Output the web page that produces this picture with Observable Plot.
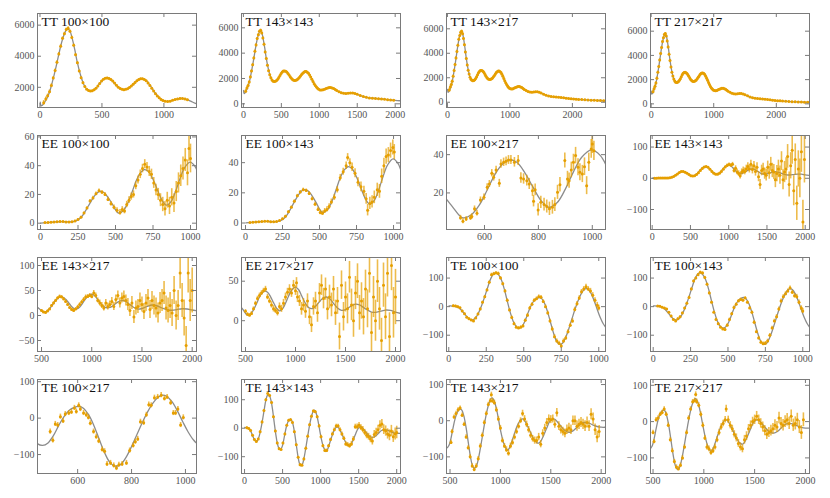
<!DOCTYPE html>
<html><head><meta charset="utf-8">
<script src="https://cdn.jsdelivr.net/npm/d3@7"></script>
<script src="https://cdn.jsdelivr.net/npm/@observablehq/plot@0.6"></script>
<style>
html,body{margin:0;padding:0;background:#fff;}
#chart{position:relative;width:830px;height:498px;overflow:hidden;background:#fff;}
#chart svg{position:absolute;overflow:visible;font-family:'Liberation Serif','DejaVu Serif',serif !important;}
#chart svg text{font-family:'Liberation Serif','DejaVu Serif',serif !important;}
</style></head><body><div id="chart"></div>
<script>
// ---------- theory curves [ell, D_ell] ----------
const ttModel = [[2,1050],[10,800],[20,850],[30,950],[50,1200],[75,1650],[100,2350],[125,3150],[150,4050],[175,4900],[200,5500],[220,5750],[240,5650],[260,5150],[280,4450],[300,3650],[325,2850],[350,2250],[375,1900],[400,1770],[425,1780],[450,1920],[475,2170],[500,2420],[525,2580],[545,2610],[570,2520],[600,2280],[630,2020],[660,1870],[690,1860],[720,1970],[750,2170],[780,2410],[810,2550],[830,2550],[860,2420],[890,2100],[920,1740],[950,1430],[980,1210],[1010,1100],[1040,1100],[1070,1160],[1100,1230],[1130,1280],[1160,1270],[1190,1200],[1220,1090],[1250,980],[1280,900],[1310,840],[1340,810],[1370,820],[1400,850],[1430,860],[1460,830],[1500,750],[1550,630],[1600,530],[1650,470],[1700,440],[1750,420],[1800,400],[1850,370],[1900,330],[1950,300],[2000,270],[2100,230],[2200,200],[2300,170],[2400,150],[2500,130],[2550,120]];
const eeModel = [[2,0.05],[30,0.3],[60,0.6],[100,0.9],[140,1.1],[180,0.9],[210,0.9],[240,1.8],[270,4],[300,8.5],[330,14],[360,19],[390,22],[420,21.5],[450,18],[480,13],[505,8.5],[520,7],[550,8.5],[580,13.5],[610,21.5],[640,30],[670,35.5],[692,37.3],[720,36],[750,30.5],[780,23],[810,16],[839,12.5],[870,15],[900,22],[930,31],[960,38.5],[997,42.5],[1030,39.5],[1060,32],[1090,24],[1120,18],[1150,15.5],[1180,16],[1210,19.5],[1250,25.5],[1280,29],[1310,30],[1340,28],[1380,22],[1420,16],[1460,13],[1500,14],[1550,18],[1600,21],[1640,20],[1700,15],[1760,11],[1800,10.5],[1850,12],[1900,13.5],[1950,13],[2000,11],[2060,9]];
const teModel = [[2,3],[20,2],[40,1],[60,-2],[80,-10],[100,-22],[120,-35],[140,-44],[160,-46],[180,-38],[200,-20],[220,5],[240,35],[260,68],[280,98],[300,115],[315,118],[330,113],[350,95],[370,62],[390,20],[410,-20],[430,-52],[450,-70],[470,-75],[490,-68],[510,-48],[530,-20],[550,5],[570,22],[590,30],[605,32],[620,28],[640,10],[660,-20],[680,-58],[700,-95],[720,-122],[740,-132],[760,-127],[780,-107],[800,-78],[820,-45],[840,-12],[860,18],[880,42],[900,58],[915,63],[930,60],[950,45],[970,20],[990,-10],[1010,-38],[1030,-60],[1050,-74],[1070,-82],[1090,-75],[1110,-60],[1140,-35],[1170,-12],[1200,2],[1220,5],[1240,0],[1270,-15],[1300,-33],[1330,-50],[1360,-60],[1380,-62],[1400,-57],[1430,-40],[1460,-20],[1490,-2],[1520,5],[1540,4],[1570,-5],[1600,-15],[1640,-27],[1680,-32],[1720,-28],[1760,-18],[1800,-8],[1840,-5],[1880,-7],[1920,-12],[1960,-16],[2000,-18],[2050,-18]];

// ---------- binned data [ell, D_ell, error] ----------
const ttBins = [[30,1000,150],[47,1250,130],[62,1450,120],[77,1720,110],[92,2120,100],[107,2600,90],[122,3080,90],[137,3620,90],[152,4150,90],[167,4650,90],[182,5150,90],[197,5450,90],[212,5720,90],[227,5800,90],[242,5600,90],[257,5200,80],[272,4700,80],[287,4100,70],[302,3580,70],[317,3050,60],[332,2620,60],[347,2300,50],[362,2050,50],[377,1880,50],[392,1790,40],[407,1760,40],[422,1780,40],[437,1840,40],[452,1940,40],[467,2080,40],[482,2240,40],[497,2400,40],[512,2520,40],[527,2590,40],[542,2600,40],[557,2570,40],[572,2510,40],[587,2400,40],[602,2270,40],[617,2130,40],[632,2010,40],[647,1920,40],[662,1870,40],[677,1850,40],[692,1870,40],[707,1910,40],[722,1980,40],[737,2080,40],[752,2190,40],[767,2310,40],[782,2420,40],[797,2500,40],[812,2550,40],[827,2550,40],[842,2500,40],[857,2420,40],[872,2280,40],[887,2120,40],[902,1940,40],[917,1760,40],[932,1590,40],[947,1440,40],[962,1320,40],[977,1220,40],[992,1150,40],[1010,1100,40],[1030,1090,40],[1050,1110,40],[1070,1160,40],[1090,1210,40],[1110,1250,40],[1130,1280,40],[1150,1280,40],[1170,1250,40],[1190,1200,40],[1210,1130,40],[1230,1050,40],[1260,960,40],[1290,880,40],[1320,830,40],[1350,810,40],[1380,830,40],[1410,850,40],[1440,850,40],[1470,810,40],[1500,750,40],[1540,660,40],[1580,570,40],[1620,510,40],[1660,460,40],[1700,440,40],[1740,420,40],[1780,410,40],[1820,390,40],[1860,360,40],[1900,330,40],[1940,300,40],[1980,280,40],[2020,260,40],[2060,250,40],[2100,230,40],[2150,215,40],[2200,200,40],[2250,185,40],[2300,170,40],[2350,160,40],[2400,150,40],[2450,140,40],[2500,130,40]];

const ee100x100 = [[30,0.4,0.3],[50,0.5,0.3],[70,0.7,0.3],[90,0.9,0.3],[110,1.0,0.3],[130,1.2,0.3],[150,1.1,0.3],[170,0.9,0.3],[190,0.9,0.3],[210,1.0,0.4],[230,1.5,0.5],[250,2.6,0.6],[270,4.2,0.7],[290,7.0,0.8],[310,10.5,1],[330,15.5,1],[350,17.5,1.2],[370,20.5,1.2],[390,22.5,1.3],[410,21.5,1.3],[430,20,1.4],[450,16.5,1.5],[470,13.5,1.6],[490,11,1.7],[510,9,1.8],[530,7.5,2],[545,9.5,2],[560,8.5,2],[575,13,2.2],[590,16,2.3],[605,18.5,2.5],[620,20,2.5],[635,26,2.7],[650,30,2.8],[665,34,3],[680,38,3],[695,41,3.2],[710,39,3.3],[725,36,3.5],[740,34,3.6],[755,28,3.8],[770,23,4],[785,20,4.2],[800,16,4.5],[815,13,5],[830,10,5],[845,16,5.5],[860,12,6],[875,18,6],[890,14,6.5],[905,22,7],[920,28,7],[935,33,7.5],[950,38,8],[965,44,8],[980,35,9],[990,52,9],[1000,45,10]];
const ee100x143 = [[30,0.3,0.2],[50,0.5,0.2],[70,0.6,0.2],[90,0.8,0.2],[110,1.0,0.2],[130,1.1,0.2],[150,1.1,0.2],[170,0.9,0.2],[190,0.8,0.3],[210,1.0,0.3],[230,1.6,0.4],[250,2.8,0.5],[270,4.5,0.6],[290,7.5,0.7],[310,10.5,0.8],[330,14.5,0.9],[350,18,1],[370,20.5,1],[390,22,1.1],[410,21.5,1.1],[430,19.5,1.2],[450,16,1.2],[470,12.5,1.3],[490,9,1.4],[505,7,1.5],[520,6.5,1.5],[535,8,1.6],[550,9,1.7],[565,11,1.8],[580,14,1.9],[600,17,2],[620,22,2.1],[640,30,2.2],[660,34,2.3],[680,38,2.5],[690,43.5,2.5],[705,40,2.6],[720,37,2.8],[740,33,3],[760,27,3],[780,24,3.2],[800,21,3.4],[815,16,3.6],[825,8.5,3.8],[840,13,4],[855,14,4],[870,17,4.2],[890,22,4.4],[905,21,4.6],[920,31,4.8],[935,38,5],[950,44,5],[965,45,5],[980,48,5],[995,50,5],[1005,47,5]];
const ee100x217 = [[511,7.0,1.3],[520,5.2,1.3],[532,6.4,1.3],[548,7.0,1.4],[553,7.7,1.4],[563,11.7,1.5],[572,9.4,1.5],[585,16.3,1.6],[598,17.7,1.7],[610,23,1.8],[618,24.7,1.8],[627,30.3,1.9],[634,28.2,2],[643,32,2],[655,25,2.1],[661,35.1,2.2],[671,36,2.2],[680,36.5,2.3],[689,37.2,2.3],[698,37.2,2.4],[711,36,2.5],[725,36.9,2.6],[735,27.8,2.7],[745,27.3,2.7],[757,26.4,2.8],[766,24.7,2.9],[778,21.2,3],[782,15.7,3],[788,21.6,3.1],[799,11.1,3.2],[809,15.1,3.2],[821,13.9,3.3],[831,12.9,3.4],[841,11.7,3.5],[852,12.5,3.6],[861,13.9,3.6],[871,20.3,3.7],[880,24.3,3.8],[898,36.9,3.9],[908,27.3,4],[914,26.4,4],[922,32,4.1],[930,36,4.2],[938,39.5,4.3],[947,33.4,4.4],[954,30.8,4.4],[963,29.9,4.5],[971,33.7,4.6],[979,23.8,4.7],[987,36,4.8],[996,43,4.9],[1000,45.6,5],[1006,42,5]];
const ee143x143 = [[30,0.3,0.5],[55,0.5,0.5],[80,0.8,0.5],[105,1,0.5],[130,1.1,0.5],[155,1,0.6],[180,0.9,0.6],[205,0.9,0.7],[230,1.5,0.8],[255,3,0.9],[280,5.5,1],[305,9.5,1],[330,14,1],[355,18.5,1],[380,21.5,1],[405,21.5,1],[430,19.5,1],[455,16,1],[480,12,1.2],[505,8.5,1.2],[530,7,1.3],[555,8,1.4],[580,12,1.5],[605,18,1.6],[630,25,1.7],[655,31,1.8],[680,36,2],[705,37.5,2],[730,35,2.2],[755,29,2.4],[780,22,2.6],[805,16,2.8],[830,13,3],[855,13,3.2],[880,16,3.4],[905,22,3.6],[930,29,4],[955,36,4],[980,41,4.5],[1005,44,5],[1030,42,5],[1050,45,6],[1070,25,8],[1090,32,8],[1110,20,9],[1130,15,9],[1150,8,10],[1170,20,10],[1190,25,11],[1210,22,11],[1230,30,12],[1250,38,12],[1270,30,13],[1290,45,13],[1310,28,14],[1330,40,14],[1350,22,15],[1370,35,15],[1390,5,16],[1410,-20,16],[1430,25,17],[1450,30,18],[1470,15,18],[1490,10,19],[1510,35,20],[1530,18,21],[1550,45,22],[1570,25,23],[1590,20,24],[1610,-5,25],[1630,15,26],[1650,30,28],[1670,10,29],[1690,55,30],[1710,-5,32],[1730,20,34],[1750,30,36],[1770,70,38],[1790,-20,40],[1810,40,42],[1830,90,45],[1850,-40,48],[1870,60,50],[1890,-80,55],[1910,30,58],[1930,0,62],[1950,85,66],[1970,-140,70],[1990,60,75]];
const ee143x217 = [[500,10,2],[520,7,2],[540,6,2],[560,9,2],[580,13,2],[600,20,2],[620,25,2.5],[640,30,2.5],[660,35,2.5],[680,38,3],[700,37,3],[720,33,3],[740,28,3],[760,22,3],[780,16,3],[800,12,3],[820,10,3],[840,13,3],[860,17,3.5],[880,22,3.5],[900,27,3.5],[920,32,4],[940,37,4],[960,38,4],[980,40,4],[1000,38,4.5],[1020,45,5],[1040,40,5],[1060,30,5],[1080,25,6],[1100,20,6],[1120,15,6],[1140,25,7],[1160,18,7],[1180,22,7],[1200,28,8],[1220,18,8],[1240,32,9],[1260,40,9],[1280,25,10],[1300,35,10],[1320,38,11],[1340,30,11],[1360,22,12],[1380,10,12],[1400,25,13],[1420,-3,13],[1440,15,14],[1460,18,14],[1480,30,15],[1500,22,15],[1520,8,16],[1540,25,17],[1560,35,17],[1580,12,18],[1600,30,18],[1620,20,19],[1640,15,20],[1660,5,20],[1680,25,21],[1700,30,22],[1720,45,23],[1740,15,24],[1760,10,25],[1780,20,26],[1800,5,27],[1820,50,28],[1840,0,29],[1860,20,30],[1880,85,32],[1900,30,34],[1920,-5,36],[1940,-60,38],[1960,85,40],[1980,30,42],[2000,50,45]];
const ee217x217 = [[500,12,2],[520,8,2],[540,7,2],[560,9,2.5],[580,15,2.5],[600,22,2.5],[620,28,3],[640,32,3],[660,35,3],[680,38,3],[700,40,3.5],[720,30,3.5],[740,25,3.5],[760,20,4],[780,15,4],[800,13,4],[820,10,4],[840,18,4.5],[860,15,4.5],[880,22,5],[900,30,5],[920,36,5],[940,40,5.5],[960,35,5.5],[980,45,6],[1000,38,6],[1010,48,6.5],[1020,30,7],[1040,25,7],[1060,15,8],[1080,20,8],[1100,12,9],[1120,25,9],[1140,5,10],[1160,-5,10],[1180,18,11],[1200,25,11],[1220,10,12],[1240,35,12],[1260,45,13],[1280,28,13],[1300,40,14],[1320,15,14],[1340,30,15],[1360,20,15],[1380,40,16],[1400,10,16],[1420,25,17],[1440,-20,17],[1460,45,18],[1480,5,18],[1500,30,19],[1520,15,19],[1540,55,20],[1560,20,20],[1580,0,21],[1600,35,21],[1620,50,22],[1640,10,22],[1660,25,23],[1680,5,23],[1700,40,24],[1720,15,24],[1740,60,25],[1760,-15,25],[1780,30,26],[1800,0,26],[1820,50,27],[1840,15,27],[1860,-25,28],[1880,45,28],[1900,5,29],[1920,60,30],[1940,-20,30],[1960,70,32],[1980,10,32],[2000,30,35]];

const te100x100 = [[30,3,3],[45,2,3],[60,0,3],[75,-4,3],[90,-15,3],[105,-25,3],[120,-37,3],[135,-42,3],[150,-47,3],[165,-50,4],[180,-40,4],[195,-26,4],[210,-8,4],[225,15,4],[240,35,4],[255,58,5],[270,85,5],[285,112,5],[300,115,5],[315,118,5],[330,116,5],[345,100,5],[360,80,5],[375,55,5],[390,22,5],[405,-12,5],[420,-38,5],[435,-60,5],[450,-72,5],[465,-75,5],[480,-72,5],[495,-68,5],[510,-48,5],[525,-30,6],[540,-5,6],[555,8,6],[570,22,6],[585,28,6],[600,35,6],[615,33,6],[630,18,6],[645,0,6],[660,-22,6],[675,-50,6],[690,-78,7],[705,-105,7],[720,-120,7],[735,-128,7],[750,-138,7],[765,-120,7],[780,-110,7],[795,-88,7],[810,-65,7],[825,-50,8],[840,-10,8],[855,10,8],[870,30,8],[885,52,8],[900,62,8],[915,70,8],[930,62,8],[945,55,9],[960,40,9],[975,22,9],[990,5,10],[1000,-5,10]];
const te100x143 = [[30,2,2],[45,1,2],[60,-2,2],[75,-5,2],[90,-8,2],[105,-20,2],[120,-33,3],[135,-45,3],[150,-50,3],[165,-42,3],[180,-35,3],[195,-22,3],[210,-5,3],[225,12,3],[240,32,4],[255,62,4],[270,90,4],[285,100,4],[300,112,4],[315,120,4],[330,118,4],[345,102,4],[360,78,4],[375,48,4],[390,15,4],[405,-20,4],[420,-45,4],[435,-60,4],[450,-72,4],[465,-78,4],[480,-80,5],[495,-65,5],[510,-45,5],[525,-25,5],[540,-3,5],[555,8,5],[570,20,5],[585,25,5],[600,22,5],[615,30,5],[630,15,5],[645,-5,5],[660,-20,5],[675,-55,6],[690,-88,6],[705,-110,6],[720,-125,6],[735,-130,6],[750,-128,6],[765,-120,6],[780,-100,6],[795,-75,6],[810,-50,6],[825,-35,7],[840,-8,7],[855,20,7],[870,35,7],[885,45,7],[900,55,7],[915,65,7],[930,50,7],[945,38,8],[960,35,8],[975,15,8],[990,-5,8],[1000,-15,9]];
const te100x217 = [[498,-37,7],[508,-61,7],[517,-16,7],[526,-19,7],[536,4,7],[546,-8,7],[554,11,7],[567,14,7],[577,17,7],[588,28,7],[595,18,7],[604,35,7],[610,25,7],[622,14,7],[632,9,7],[640,2,7],[647,-14,7],[659,-37,7],[669,-51,7],[678,-63,7],[691,-86,7],[700,-91,7],[709,-126,7],[722,-123,7],[734,-130,7],[744,-137,7],[753,-128,7],[765,-126,7],[781,-123,7],[793,-89,7],[806,-75,7],[814,-65,7],[823,-57,7],[833,-10,7],[845,-13,7],[855,9,7],[864,37,7],[873,35,7],[885,56,7],[897,58,7],[910,63,7],[922,54,7],[932,58,7],[945,42,7],[955,14,7],[963,14,7],[972,25,7],[982,-19,7],[992,2,7]];
const te143x143 = [[30,2,3],[55,-1,3],[80,-8,3],[105,-25,3],[130,-40,3],[155,-47,3],[180,-38,3],[205,-12,3],[230,22,3],[255,62,3],[280,100,3],[305,122,3],[330,115,3],[355,90,3],[380,40,3],[405,-10,3],[430,-52,3],[455,-72,3],[480,-75,3],[505,-52,3],[530,-20,3],[555,10,3],[580,28,3],[605,30,3],[630,20,3],[655,-12,3],[680,-58,3],[705,-102,3],[730,-128,4],[755,-130,4],[780,-108,4],[805,-70,4],[830,-28,4],[855,12,4],[880,42,4],[905,60,4],[930,58,4],[955,40,4],[980,8,5],[1005,-30,5],[1030,-62,5],[1055,-78,5],[1080,-78,5],[1105,-62,5],[1130,-40,5],[1155,-20,6],[1180,-5,6],[1205,8,6],[1230,8,6],[1255,-5,7],[1280,-20,7],[1305,-35,7],[1330,-55,8],[1355,-58,8],[1380,-62,8],[1405,-55,9],[1430,-38,9],[1455,5,9],[1480,5,10],[1505,10,10],[1530,2,10],[1555,-5,11],[1580,-15,11],[1605,-25,12],[1630,-30,12],[1655,-38,13],[1680,-45,14],[1705,-22,14],[1730,-15,15],[1755,-5,15],[1780,10,16],[1805,15,16],[1830,-5,17],[1855,-10,18],[1880,-20,18],[1905,-25,19],[1930,-10,20],[1955,-30,20],[1980,-20,21],[2000,-15,22]];
const te143x217 = [[510,-60,6],[520,-30,6],[540,10,6],[560,20,6],[580,30,6],[600,35,6],[620,15,6],[640,-10,6],[660,-45,6],[680,-75,6],[700,-100,6],[720,-125,6],[740,-135,6],[760,-125,6],[780,-105,6],[800,-70,6],[820,-40,6],[840,-5,6],[860,20,6],[880,45,6],[900,55,6],[910,72,7],[920,55,7],[940,50,7],[960,30,7],[980,5,7],[1000,-20,7],[1020,-55,7],[1040,-70,7],[1060,-80,8],[1080,-90,8],[1100,-70,8],[1120,-60,8],[1140,-45,8],[1160,-30,8],[1180,-15,8],[1200,0,8],[1220,20,9],[1240,5,9],[1260,-10,9],[1280,-25,9],[1300,-40,9],[1320,-50,9],[1340,-55,10],[1360,-55,10],[1380,-45,10],[1400,-65,10],[1420,-35,10],[1440,-20,10],[1460,-5,11],[1480,5,11],[1500,3,11],[1520,5,11],[1540,-10,11],[1560,22,12],[1580,-15,12],[1600,-25,12],[1620,-30,12],[1640,-35,12],[1660,-25,13],[1680,-20,13],[1700,-25,13],[1720,0,13],[1740,0,13],[1760,-15,14],[1780,-10,14],[1800,-5,14],[1820,-10,14],[1840,-15,15],[1860,-5,15],[1880,-15,15],[1900,18,15],[1920,5,16],[1940,-25,16],[1960,-45,16],[1980,-30,17]];
const te217x217 = [[500,-30,6],[510,-55,6],[530,5,6],[550,10,6],[570,20,6],[590,25,6],[610,35,6],[630,20,6],[650,-10,6],[670,-50,6],[690,-80,6],[710,-110,6],[730,-125,6],[750,-130,6],[770,-120,6],[790,-100,6],[810,-70,6],[830,-30,6],[850,10,6],[870,35,6],[890,55,6],[910,58,7],[920,75,7],[930,55,7],[950,45,7],[970,20,7],[990,-10,7],[1010,-45,7],[1030,-70,8],[1050,-75,8],[1070,-85,8],[1090,-80,8],[1110,-70,8],[1130,-50,8],[1150,-30,9],[1170,-15,9],[1190,-5,9],[1210,5,9],[1220,35,10],[1240,5,10],[1260,-10,10],[1280,-20,10],[1300,-35,10],[1320,-45,11],[1340,-60,11],[1360,-70,11],[1380,-75,11],[1400,-50,12],[1420,-40,12],[1440,-20,12],[1460,-10,12],[1480,0,12],[1500,5,13],[1520,15,13],[1540,5,13],[1560,-5,13],[1580,-15,14],[1600,-25,14],[1620,-35,14],[1640,-30,14],[1660,-25,15],[1680,-20,15],[1700,-10,15],[1720,-15,15],[1740,10,16],[1760,-5,16],[1780,-10,16],[1800,0,16],[1820,5,17],[1840,-5,17],[1860,15,17],[1880,-10,17],[1900,-5,18],[1920,5,18],[1940,-15,18],[1960,-30,19],[1980,5,19]];

// ---------- panel titles and tick values ----------
const titles = ["TT 100×100","TT 143×143","TT 143×217","TT 217×217","EE 100×100","EE 100×143","EE 100×217","EE 143×143","EE 143×217","EE 217×217","TE 100×100","TE 100×143","TE 100×217","TE 143×143","TE 143×217","TE 217×217"];
const xTickSets = [[0,500,1000],[0,500,1000,1500,2000],[0,1000,2000],[0,1000,2000],[0,250,500,750,1000],[0,250,500,750,1000],[600,800,1000],[0,500,1000,1500,2000],[500,1000,1500,2000],[500,1000,1500,2000],[0,250,500,750,1000],[0,250,500,750,1000],[600,800,1000],[0,500,1000,1500,2000],[500,1000,1500,2000],[500,1000,1500,2000]];
const yTickSets = [[2000,4000,6000],[0,2000,4000,6000],[0,2000,4000,6000],[0,2000,4000,6000],[0,20,40,60],[0,20,40],[20,40],[-100,0,100],[-50,0,50,100],[0,50],[-100,0,100],[-100,0,100],[-100,0,100],[-100,0,100],[-100,0,100],[-100,0,100]];

// ---------- panel options (library setup) ----------
const panels = [
 {model: ttModel, data: ttBins.filter(d => d[0] <= 1200), x: [-20,1263], y: [700,6750]},
 {model: ttModel, data: ttBins.filter(d => d[0] <= 2000), x: [-25,2070], y: [-290,7130]},
 {model: ttModel, data: ttBins, x: [-15,2530], y: [-430,7250]},
 {model: ttModel, data: ttBins, x: [-10,2530], y: [-300,7460]},
 {model: eeModel, data: ee100x100, x: [-20,1040], y: [-4.4,61]},
 {model: eeModel, data: ee100x143, x: [-27,1047], y: [-4.3,58]},
 {model: eeModel, data: ee100x217, x: [459,1049], y: [0.9,50]},
 {model: eeModel, data: ee143x143, x: [-22,2056], y: [-164,137]},
 {model: eeModel, data: ee143x217, x: [460,2043], y: [-72,116]},
 {model: eeModel, data: ee217x217, x: [460,2050], y: [-39,80]},
 {model: teModel, data: te100x100, x: [-15,1045], y: [-157,172]},
 {model: teModel, data: te100x143, x: [-18,1045], y: [-157,172]},
 {model: teModel, data: te100x217, x: [451,1041], y: [-152,106]},
 {model: teModel, data: te143x143, x: [-40,2050], y: [-159,171]},
 {model: teModel, data: te143x217, x: [465,2043], y: [-146,114]},
 {model: teModel, data: te217x217, x: [475,2040], y: [-143,116]}
];

const ORANGE = "#E69F00", GRAY = "#8c8c8c", FRAME = "#7a7a7a", TICKTXT = "#555";
const FONT = "Liberation Serif, DejaVu Serif, serif";
const colLeft = [37, 241, 446, 650], rowTop = [13, 135, 257, 379];
const W = 159, H = 94, ML = 40, MR = 12, MT = 4, MB = 22;
const fmt = d => (d < 0 ? "\u2212" + Math.abs(d) : String(d));
const chart = document.getElementById("chart");

panels.forEach((s, i) => {
  const xt = xTickSets[i], yt = yTickSets[i];
  const svg = Plot.plot({
    width: W + ML + MR, height: H + MT + MB,
    marginLeft: ML, marginRight: MR, marginTop: MT, marginBottom: MB,
    style: {background: "transparent", overflow: "visible"},
    x: {domain: s.x, label: null},
    y: {domain: s.y, label: null},
    marks: [
      Plot.line(s.model, {x: d => d[0], y: d => d[1], stroke: GRAY, strokeWidth: 1.3, curve: "catmull-rom", clip: true}),
      Plot.ruleX(s.data, {x: d => d[0], y1: d => d[1] - d[2], y2: d => d[1] + d[2], stroke: ORANGE, strokeOpacity: 0.7, strokeWidth: 1.6, clip: true}),
      Plot.dot(s.data, {x: d => d[0], y: d => d[1], r: 1.5, fill: ORANGE, clip: true}),
      Plot.tickX(xt, {x: d => d, insetTop: H - 4, stroke: FRAME}),
      Plot.tickX(xt, {x: d => d, insetBottom: H - 4, stroke: FRAME}),
      Plot.tickY(yt, {y: d => d, insetRight: W - 4, stroke: FRAME}),
      Plot.tickY(yt, {y: d => d, insetLeft: W - 4, stroke: FRAME}),
      Plot.axisX(xt, {tickSize: 0, tickPadding: 3, fontSize: 10, fontFamily: FONT, color: TICKTXT, tickFormat: fmt}),
      Plot.axisY(yt, {tickSize: 0, tickPadding: 3, fontSize: 10, fontFamily: FONT, color: TICKTXT, tickFormat: fmt}),
      Plot.frame({stroke: FRAME}),
      Plot.text([titles[i]], {text: d => d, frameAnchor: "top-left", textAnchor: "start", lineAnchor: "top", dx: 4, dy: 3, fontSize: 13.5, fontFamily: FONT, fill: "#111"})
    ]
  });
  svg.setAttribute("font-family", FONT);
  svg.style.left = (colLeft[i % 4] - ML) + "px";
  svg.style.top = (rowTop[Math.floor(i / 4)] - MT) + "px";
  chart.appendChild(svg);
});
</script></body></html>
